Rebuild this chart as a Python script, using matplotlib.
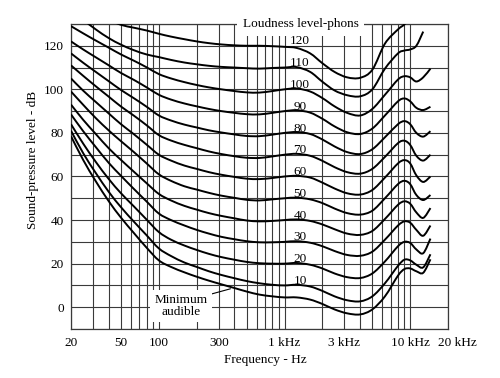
import numpy as np
import matplotlib.pyplot as plt
from matplotlib.path import Path
from matplotlib.patches import PathPatch
from matplotlib.transforms import ScaledTranslation

plt.rcParams['font.family'] = ['Liberation Serif', 'DejaVu Serif']

freqs = [20, 25, 31.5, 40, 50, 63, 80, 100, 125, 160, 200, 250, 315, 400, 500,
         630, 800, 1000, 1250, 1600, 2000, 2500, 3150, 4000, 5000, 6300,
         8000, 9000, 10000, 11200, 12700, 14500]

# sound-pressure level (dB) of each contour, None where the curve is not drawn
min_audible = [78.5, 67.6, 57.8, 48.6, 41.1, 34.2, 27.3, 21.5, 18.5, 16, 14, 12.2, 10.5, 8.8, 7.2,
               5.8, 5, 4.5, 4.5, 3.5, 1.5, -1, -2.8, -3.3, -1, 5,
               14.5, 17.5, 17.8, 16.5, 15.8, 22]
phon_10 = [81, 70.7, 61.6, 52.9, 45.9, 39.4, 33, 27, 23.5, 20.5, 18.5, 16.5, 14.8, 13.3, 12,
           11, 10.3, 10, 10.3, 9.5, 7.5, 5, 3.2, 2.7, 5, 11,
           19, 21.8, 21.5, 19.5, 18.3, 24.3]
phon_20 = [84, 75.1, 66.7, 58.8, 52.3, 46.4, 40.2, 34.5, 31, 28.3, 26.3, 24.5, 23, 21.8, 20.8,
           20.2, 20, 20, 20.3, 19.5, 17.8, 15.5, 13.8, 13.4, 15.5, 21,
           28, 30, 29.5, 26.5, 24.8, 31.5]
phon_30 = [88.5, 80.8, 73.5, 66.2, 60.3, 54.4, 48.5, 43, 40, 37.5, 35.5, 33.8, 32.3, 31.2, 30.3,
           29.8, 29.8, 30, 30.3, 29.6, 28, 25.8, 24, 23.6, 25.5, 31,
           37.5, 39.4, 38.8, 35.5, 32.8, 37.5]
phon_40 = [93, 86, 79.5, 72.9, 67.6, 62.3, 56.9, 52, 49, 46.5, 44.8, 43.2, 41.9, 40.8, 39.8,
           39.4, 39.6, 40, 40.3, 39.6, 38, 35.8, 33.8, 33.2, 35, 40.5,
           47, 48.6, 47.5, 43.5, 41, 45.5]
phon_50 = [99, 92.9, 86.8, 81.1, 76.2, 71.3, 66, 61, 58, 55.5, 54, 52.5, 51.2, 50.2, 49.3,
           49, 49.5, 50, 50.3, 49.5, 47.8, 45.3, 43.2, 42.5, 44.3, 50,
           56.5, 58, 56.5, 51.5, 49.2, 51.5]
phon_60 = [105, 99.4, 94.2, 88.9, 84, 79.5, 74.6, 70, 67.3, 65, 63.5, 62, 60.8, 59.8, 59,
           58.8, 59.3, 60, 60.3, 59.5, 57.2, 54.5, 52.3, 51.7, 53.8, 59.5,
           66, 67.5, 66, 60.5, 57.5, 60]
phon_70 = [111, 106.2, 101.4, 96.6, 92.1, 88, 83.5, 79, 76.5, 74.5, 73, 71.5, 70.3, 69.3, 68.6,
           68.5, 69.2, 70, 70.4, 69.5, 67.2, 64.3, 62, 61.3, 63.5, 69,
           75.3, 76.4, 74.5, 69.5, 67.3, 70]
phon_80 = [116.5, 112.2, 108, 103.7, 99.7, 96, 92, 88, 85.7, 83.8, 82.5, 81.2, 80.2, 79.3, 78.6,
           78.5, 79.2, 80, 80.4, 79.5, 77, 73.8, 71.2, 70.3, 72.5, 78,
           84, 85.4, 84, 80, 78.3, 80.8]
phon_90 = [122, 118.3, 114.7, 111, 107.5, 104.4, 100.9, 97.5, 95.3, 93.5, 92.2, 91, 90, 89.2, 88.6,
           88.5, 89.2, 90, 90.4, 89.3, 86.5, 83, 80.3, 79.5, 82, 88,
           94.5, 95.8, 94.5, 91.5, 90.5, 92]
phon_100 = [129, 125.7, 122.4, 119.1, 116, 113.2, 110.1, 107, 105, 103.3, 102, 100.9, 100, 99.2, 98.6,
            98.5, 99.2, 100, 100.4, 99, 96, 92.2, 89.2, 88, 91, 97.5,
            104.5, 106, 105.5, 103.6, 105.5, 109.5]
phon_110 = [137, 132, 127.5, 123.5, 120.5, 118, 116, 114.8, 113.5, 112.3, 111.5, 110.8, 110.3, 110, 109.7,
            109.5, 109.8, 110, 110.2, 108, 103.5, 99.5, 97.3, 96.8, 100, 109.5,
            116.5, 117.8, 118.3, 120, 126.5, None]
phon_120 = [141, 138, 135, 132, 129.6, 128.3, 127, 125.5, 124.2, 123, 122, 121.2, 120.6, 120.2, 120,
            120, 119.8, 119.5, 119, 116.5, 112, 108, 105.5, 105.3, 109, 121,
            127.5, 129.8, 133, None, None, None]

contours = [min_audible, phon_10, phon_20, phon_30, phon_40, phon_50, phon_60,
            phon_70, phon_80, phon_90, phon_100, phon_110, phon_120]
phon_levels = [10, 20, 30, 40, 50, 60, 70, 80, 90, 100, 110, 120]

x_ticks = [20, 50, 100, 300, 1000, 3000, 10000, 20000]
x_tick_labels = ['20', '50', '100', '300', '1 kHz', '3 kHz', '10 kHz', '20 kHz']
x_grid = [30, 40, 60, 70, 80, 90, 200, 400, 500, 600, 700, 800, 900,
          2000, 4000, 5000, 6000, 7000, 8000, 9000]


def smooth_path(f, db):
    # Catmull-Rom curve through the read points, built in log-frequency space
    pts = np.array([(np.log10(x), y) for x, y in zip(f, db) if y is not None])
    ext = np.vstack([pts[0], pts, pts[-1]])
    verts = [pts[0]]
    codes = [Path.MOVETO]
    for i in range(len(pts) - 1):
        p0, p1, p2, p3 = ext[i], ext[i + 1], ext[i + 2], ext[i + 3]
        verts += [p1 + (p2 - p0) / 6, p2 - (p3 - p1) / 6, p2]
        codes += [Path.CURVE4] * 3
    verts = np.array(verts)
    verts[:, 0] = 10 ** verts[:, 0]
    return Path(verts, codes)


fig = plt.figure(figsize=(5.0, 3.78), dpi=100)
ax = fig.add_axes([0.142, 0.1296, 0.754, 0.807])
ax.set_xscale('log')
ax.set_xlim(20, 20000)
ax.set_ylim(-10, 130)

ax.set_xticks(x_ticks)
ax.set_xticklabels(x_tick_labels)
ax.set_xticks(x_grid, minor=True)
ax.set_yticks(range(0, 121, 20))
ax.set_yticks(range(-10, 131, 10), minor=True)
ax.tick_params(which='both', length=0, labelsize=9.5)
ax.tick_params(axis='x', pad=6)
ax.tick_params(axis='y', pad=5)
ax.xaxis.get_majorticklabels()[-1].set_transform(
    ax.xaxis.get_majorticklabels()[-1].get_transform()
    + ScaledTranslation(9 / 100, 0, fig.dpi_scale_trans))
ax.grid(True, which='both', color='#3a3a3a', linewidth=0.8)
ax.set_axisbelow(True)
for s in ax.spines.values():
    s.set_color('#3a3a3a')
    s.set_linewidth(0.9)

for db in contours:
    ax.add_patch(PathPatch(smooth_path(freqs, db), fill=False,
                           edgecolor='black', linewidth=1.4, zorder=3))

for n in phon_levels:
    ax.text(1330, n + 2, str(n), ha='center', va='center', fontsize=9.5, zorder=4)

ax.text(0.609, 1.0, 'Loudness level-phons', transform=ax.transAxes,
        ha='center', va='center', fontsize=9.5, zorder=6, clip_on=False,
        bbox=dict(facecolor='white', edgecolor='none', pad=4))

ax.text(150, 0.5, 'Minimum\naudible', ha='center', va='center', fontsize=9.5,
        linespacing=0.95, zorder=6,
        bbox=dict(facecolor='white', edgecolor='none', pad=3))
ax.annotate('', xy=(390, 8.8), xytext=(245, 5.6),
            arrowprops=dict(arrowstyle='-', lw=0.8, color='black'), zorder=5)

fig.text(0.531, 1 - 360 / 378, 'Frequency - Hz', ha='center', va='center', fontsize=9.5)
fig.text(0.066, 1 - 160 / 378, 'Sound-pressure level - dB', ha='center', va='center',
         rotation=90, fontsize=9.5)

fig.savefig('out.png', dpi=100, facecolor='white')
